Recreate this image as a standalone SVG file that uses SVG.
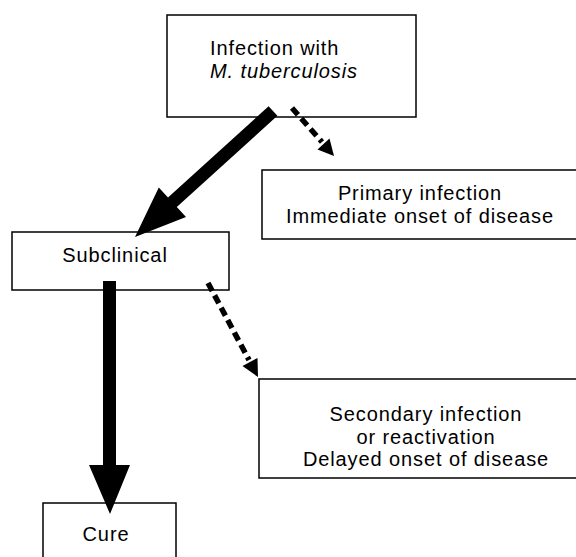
<svg xmlns="http://www.w3.org/2000/svg" width="576" height="557" viewBox="0 0 576 557">
<style>
.box{fill:#fff;stroke:#000;stroke-width:1.5}
.t{font-family:"Liberation Sans",Arial,sans-serif;font-size:20px;letter-spacing:0.9px;fill:#000}
.c{text-anchor:middle}
.dash{fill:none;stroke:#000;stroke-width:5.5;stroke-dasharray:9 5}
</style>
<rect width="576" height="557" fill="#fff"/>
<g id="infection">
<rect class="box" x="167" y="15" width="249" height="102"/>
<text class="t" x="210" y="55">Infection with</text>
<text class="t" x="210" y="78" font-style="italic">M. tuberculosis</text>
</g>
<g id="primary">
<rect class="box" x="262" y="170" width="320" height="69"/>
<text class="t c" x="420" y="200">Primary infection</text>
<text class="t c" x="420" y="223">Immediate onset of disease</text>
</g>
<g id="subclinical">
<rect class="box" x="12" y="232" width="217" height="58"/>
<text class="t c" x="115" y="262">Subclinical</text>
</g>
<g id="secondary">
<rect class="box" x="259" y="379" width="323" height="99"/>
<text class="t c" x="426" y="421">Secondary infection</text>
<text class="t c" x="426" y="444">or reactivation</text>
<text class="t c" x="426" y="466">Delayed onset of disease</text>
</g>
<g id="cure">
<rect class="box" x="43" y="503" width="133" height="60"/>
<text class="t c" x="106" y="541">Cure</text>
</g>
<g id="connectors">
<polygon fill="#000" points="277.4,115.8 268.6,106.2 168.0,197.5 158.8,187.6 135,237 186,217 176.8,207.1"/>
<polygon fill="#000" points="103,281 116,281 116,465 130,465 110,514 89,465 103,465"/>
<line class="dash" x1="292" y1="108" x2="322" y2="142"/>
<polygon fill="#000" points="329.5,138.6 334,156 317.5,149.4"/>
<line class="dash" x1="208" y1="283" x2="249" y2="360"/>
<polygon fill="#000" points="257.5,358 258,377 242.5,366"/>
</g>
</svg>
